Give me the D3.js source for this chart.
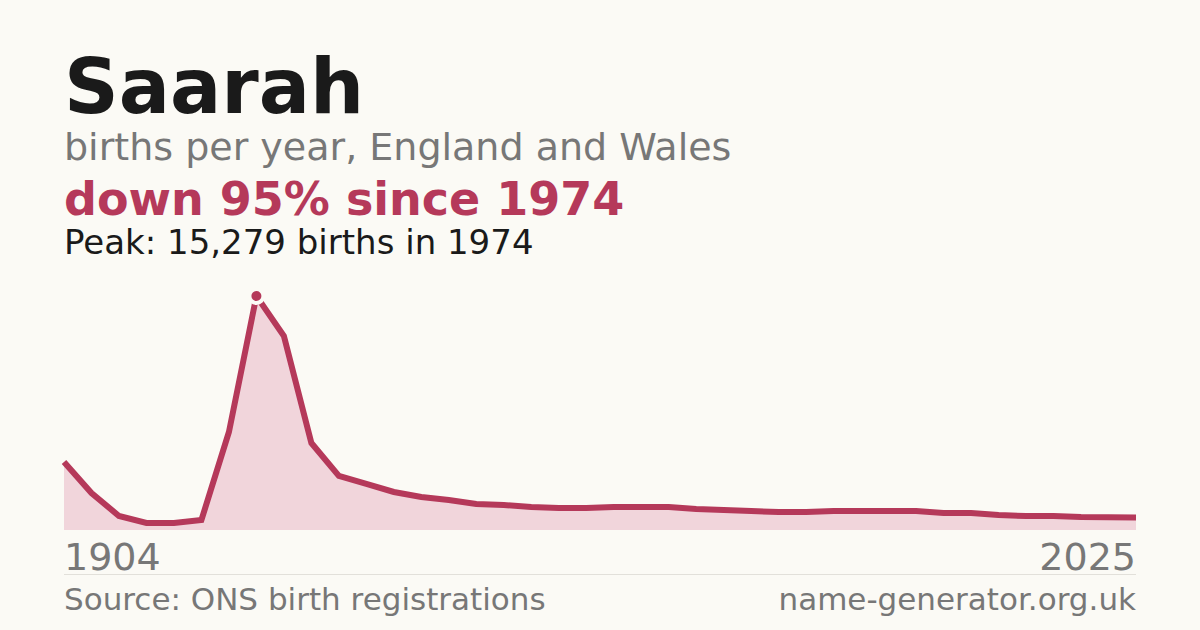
<!DOCTYPE html><html><head><meta charset="utf-8">
<script src="https://cdn.jsdelivr.net/npm/d3@7"></script>
<style>body{margin:0;background:#fbfaf5}svg{display:block}text{font-family:"DejaVu Sans",sans-serif}</style></head><body>
<script>
const years=[1904,1914,1924,1934,1944,1954,1964,1974,1984,1994,1996,1997,1998,1999,2000,2001,2002,2003,2004,2005,2006,2007,2008,2009,2010,2011,2012,2013,2014,2015,2016,2017,2018,2019,2020,2021,2022,2023,2024,2025];
const births=[4440,2416,914,457,457,653,6400,15279,12668,5681,3526,3004,2481,2155,1959,1698,1633,1502,1437,1437,1502,1502,1502,1371,1306,1241,1175,1175,1241,1241,1241,1241,1110,1110,980,914,914,849,830,820];
const axisLabels=["1904","2025"];
(function(){
const W=1200,H=630,L=64,R=1136,base=530,topY=296;
const svg=d3.select("body").append("svg").attr("width",W).attr("height",H);
svg.append("rect").attr("width",W).attr("height",H).attr("fill","#fbfaf5");
const x=d3.scalePoint().domain(years).range([L,R]);
const y=d3.scaleLinear().domain([0,d3.max(births)]).range([base,topY]);
const data=years.map((yr,i)=>({yr,v:births[i]}));
svg.append("path").datum(data).attr("fill","#f1d5db").attr("d",d3.area().x(d=>x(d.yr)).y0(base).y1(d=>y(d.v)));
svg.append("path").datum(data).attr("fill","none").attr("stroke","#b5395a").attr("stroke-width",6).attr("d",d3.line().x(d=>x(d.yr)).y(d=>y(d.v)));
const pk=data[d3.maxIndex(births)];
svg.append("circle").attr("cx",x(pk.yr)).attr("cy",y(pk.v)).attr("r",7).attr("fill","#b5395a").attr("stroke","#fbfaf5").attr("stroke-width",4);
const t=(s,xx,yy,sz,fill,wt,anchor)=>svg.append("text").text(s).attr("x",xx).attr("y",yy).attr("font-size",sz).attr("fill",fill).attr("font-weight",wt||"normal").attr("text-anchor",anchor||"start");
t("Saarah",64,113,76,"#1a1a1a","bold");
t("births per year, England and Wales",64,160,38,"#777");
t("down 95% since 1974",64,215,46,"#b5395a","bold");
t("Peak: "+d3.format(",")(pk.v)+" births in "+pk.yr,64,254,34,"#1a1a1a");
t(axisLabels[0],64,570,38,"#777");
t(axisLabels[1],R,570,38,"#777","normal","end");
svg.append("line").attr("x1",L).attr("x2",R).attr("y1",574.5).attr("y2",574.5).attr("stroke","#e2e0da");
t("Source: ONS birth registrations",64,610,31,"#777");
t("name-generator.org.uk",R,610,31,"#777","normal","end");
})();
</script></body></html>
